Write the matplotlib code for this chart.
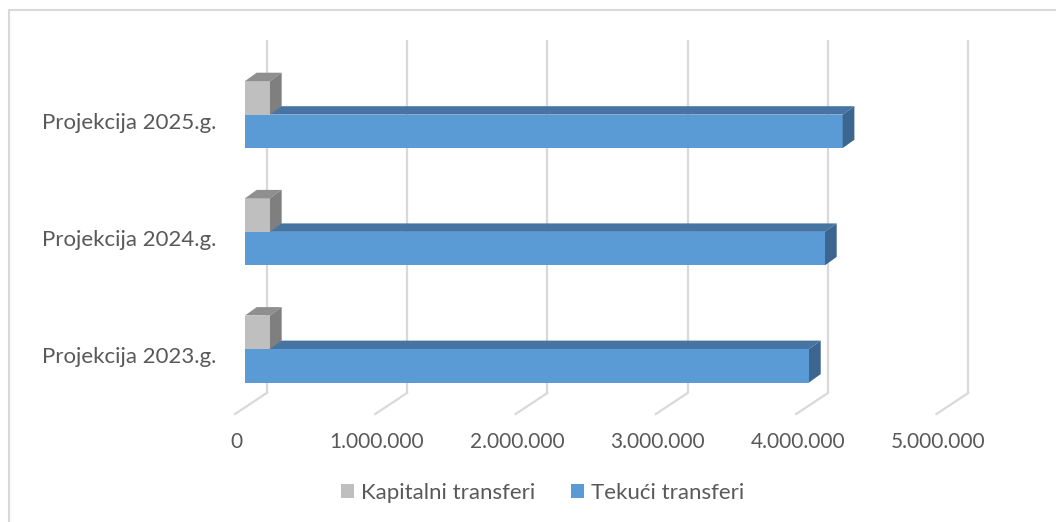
import matplotlib
matplotlib.use("Agg")
from matplotlib import pyplot as plt
from matplotlib.patches import Polygon, Patch, Rectangle
import numpy as np

# data
categories = ["Projekcija 2023.g.", "Projekcija 2024.g.", "Projekcija 2025.g."]
tekuci = [4020000, 4134000, 4260000]
kapitalni = [178000, 178000, 178000]
ticks = [0, 1000000, 2000000, 3000000, 4000000, 5000000]
tick_labels = ["0", "1.000.000", "2.000.000", "3.000.000", "4.000.000", "5.000.000"]

plt.rcParams['font.family'] = ['Lato', 'DejaVu Sans']

W, H = 1056, 522
fig = plt.figure(figsize=(W / 100, H / 100), dpi=100)
ax = fig.add_axes([0, 0, 1, 1])
ax.axis('off')

# layout in pixels -> data units
x0_px = 245.0
ppu = 140.3e-6          # pixels per value unit
row_px = 117.2
base_px = 349.0
ax.set_xlim(-x0_px / ppu, (W - x0_px) / ppu)
ax.set_ylim((base_px - H) / row_px, base_px / row_px)


def dx(px):
    return px / ppu


def dy(px):
    return px / row_px


grid_c = "#d9d9d9"
text_c = "#595959"

# gridlines (back wall + floor)
back = dx(21.7)
front = dx(-10)
y_top = dy(base_px - 40)
y_back = dy(base_px - 393)
y_front = dy(base_px - 414)
for t in ticks:
    ax.plot([t + back, t + back], [y_back, y_top], color=grid_c, lw=1.6, zorder=1,
            solid_capstyle='butt')
    ax.plot([t + back, t + front], [y_back, y_front], color=grid_c, lw=1.6, zorder=1)

for t, lab in zip(ticks, tick_labels):
    ax.text(t + front + dx(1.5), dy(base_px - 441.5), lab, ha='center', va='center',
            fontsize=15, color=text_c)

h = dy(33.5)
ddx, ddy = dx(11.7), dy(8.4)


def bar3d(y0, v, front_c, top_c, side_c):
    ax.barh(y0, v, height=h, left=0, align='edge', color=front_c, zorder=3,
            edgecolor='none')
    yt = y0 + h
    ax.add_patch(Polygon([(0, yt), (v, yt), (v + ddx, yt + ddy), (ddx, yt + ddy)],
                         closed=True, facecolor=top_c, edgecolor='none', zorder=3))
    ax.add_patch(Polygon([(v, y0), (v, yt), (v + ddx, yt + ddy), (v + ddx, y0 + ddy)],
                         closed=True, facecolor=side_c, edgecolor='none', zorder=3))


for i in range(len(categories)):
    bar3d(i - h, tekuci[i], "#5b9bd5", "#4675a4", "#3c6690")
    bar3d(i, kapitalni[i], "#bfbfbf", "#8f8f8f", "#7f7f7f")
    ax.text(-dx(245 - 216), i - dy(8), categories[i], ha='right', va='center',
            fontsize=16, color=text_c)

# legend
handles = [Patch(facecolor="#bfbfbf", edgecolor='none', label="Kapitalni transferi"),
           Patch(facecolor="#5b9bd5", edgecolor='none', label="Tekući transferi")]
fig.legend(handles=handles, loc='center', bbox_to_anchor=(543 / W, 1 - 493 / H),
           ncol=2, frameon=False, fontsize=16, handlelength=0.55, handleheight=0.55,
           handletextpad=0.35, columnspacing=1.6, labelcolor=text_c)

# chart border
fig.patches.append(Rectangle((8.5 / W, -0.1), 1.2, 1.1 - 9.5 / H + 0.0,
                             transform=fig.transFigure, fill=False,
                             edgecolor=grid_c, lw=1.5))

fig.savefig("out.png", dpi=100, facecolor='white')
